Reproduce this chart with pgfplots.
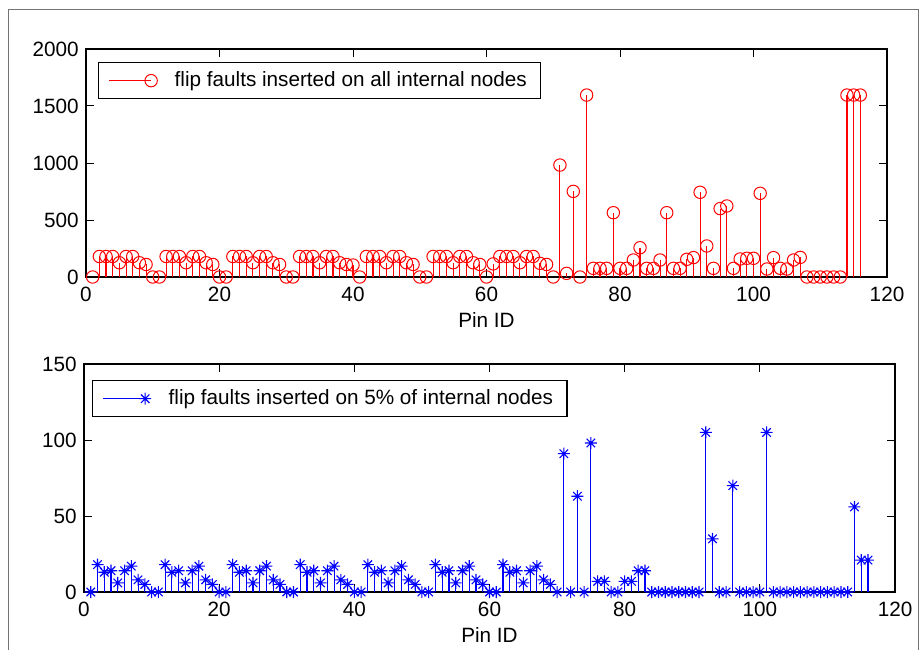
\documentclass[border=0pt]{standalone}
\usepackage{pgfplots}
\pgfplotsset{compat=1.18}
\usepackage{fontspec}
\setmainfont{Liberation Sans}
\pgfdeclareplotmark{mstar}{%
  \pgfpathmoveto{\pgfqpoint{-\pgfplotmarksize}{0pt}}\pgfpathlineto{\pgfqpoint{\pgfplotmarksize}{0pt}}%
  \pgfpathmoveto{\pgfqpoint{0pt}{-\pgfplotmarksize}}\pgfpathlineto{\pgfqpoint{0pt}{\pgfplotmarksize}}%
  \pgfpathmoveto{\pgfqpoint{-0.7071\pgfplotmarksize}{-0.7071\pgfplotmarksize}}\pgfpathlineto{\pgfqpoint{0.7071\pgfplotmarksize}{0.7071\pgfplotmarksize}}%
  \pgfpathmoveto{\pgfqpoint{-0.7071\pgfplotmarksize}{0.7071\pgfplotmarksize}}\pgfpathlineto{\pgfqpoint{0.7071\pgfplotmarksize}{-0.7071\pgfplotmarksize}}%
  \pgfusepathqstroke}
\newcommand{\ff}{\fontsize{10.35}{12}\selectfont}
\pgfplotsset{
  mstyle/.style={
    scale only axis, height=114pt,
    xmin=0, xmax=120, ymin=0,
    xtick={0,20,...,120},
    tick align=inside,
    major tick length=4pt,
    axis line style={line width=0.6pt},
    every tick/.style={black, line width=0.5pt},
    /pgf/number format/assume math mode=true,
    /pgf/number format/1000 sep={},
    ticklabel style={font=\ff},
    xticklabel style={yshift=-1.5pt},
    label style={font=\ff},
    xlabel={Pin ID},
    xlabel style={at={(axis description cs:0.5,0)}, anchor=base, yshift=-25pt, inner sep=0pt},
    legend cell align=left,
    legend style={at={(axis description cs:0,1)}, anchor=north west,
      draw=black, line width=0.6pt, font=\ff,
      inner xsep=5pt, inner ysep=2.5pt},
    legend image code/.code={%
      \draw[#1, sharp plot, mark=none] (0pt,0pt) -- (21pt,0pt);
      \draw[#1, only marks] plot coordinates {(21pt,0pt)};
      \path (30.5pt,0pt);
    },
  }
}
\begin{document}
\ff
\begin{tikzpicture}
\path[use as bounding box] (0pt,0pt) rectangle (462pt,324.5pt);
\draw[black!55, line width=0.5pt] (4pt,-2pt) -- (4pt,319.5pt) -- (459pt,319.5pt) -- (459pt,-2pt);
\begin{axis}[mstyle, at={(43pt,186pt)}, anchor=south west, width=400.5pt,
  ymax=2000, ytick={0,500,...,2000},
  legend style={xshift=6pt, yshift=-6.5pt}]
\addplot[red, line width=0.55pt, ycomb, mark=o, mark size=3.1pt, mark options={line width=0.5pt}] coordinates {
(1,0)(2,180)(3,180)(4,180)(5,125)(6,180)(7,180)(8,125)(9,110)(10,0)(11,0)
(12,180)(13,180)(14,180)(15,125)(16,180)(17,180)(18,125)(19,110)(20,0)(21,0)
(22,180)(23,180)(24,180)(25,125)(26,180)(27,180)(28,125)(29,110)(30,0)(31,0)
(32,180)(33,180)(34,180)(35,125)(36,180)(37,180)(38,125)(39,110)(40,105)(41,0)
(42,180)(43,180)(44,180)(45,125)(46,180)(47,180)(48,125)(49,110)(50,0)(51,0)
(52,180)(53,180)(54,180)(55,125)(56,180)(57,180)(58,125)(59,110)(60,0)(61,115)
(62,180)(63,180)(64,180)(65,125)(66,180)(67,180)(68,120)(69,110)(70,0)(71,982)
(72,32)(73,751)(74,0)(75,1596)(76,76)(77,76)(78,76)(79,564)(80,76)(81,76)
(82,149)(83,257)(84,76)(85,76)(86,149)(87,564)(88,76)(89,76)(90,155)(91,170)
(92,743)(93,272)(94,76)(95,600)(96,623)(97,76)(98,158)(99,164)(100,164)(101,734)
(102,70)(103,170)(104,76)(105,70)(106,149)(107,172)(108,0)(109,0)(110,0)(111,0)
(112,0)(113,0)(114,1596)(115,1596)(116,1596)
};
\addlegendentry{flip faults inserted on all internal nodes}
\node[anchor=base west, inner sep=0pt, font=\ff] at (axis description cs:0,1) [xshift=7.5pt, yshift=4.5pt] {\# Defects observed};
\end{axis}
\begin{axis}[mstyle, at={(42pt,28.5pt)}, anchor=south west, width=405.5pt,
  ymax=150, ytick={0,50,100,150},
  legend style={xshift=4pt, yshift=-8pt}]
\addplot[blue, line width=0.55pt, ycomb, mark=mstar, mark size=3pt, mark options={line width=0.55pt}] coordinates {
(1,0)(2,18)(3,13)(4,14)(5,6)(6,14)(7,17)(8,8)(9,5)(10,0)(11,0)
(12,18)(13,13)(14,14)(15,6)(16,14)(17,17)(18,8)(19,5)(20,0)(21,0)
(22,18)(23,13)(24,14)(25,6)(26,14)(27,17)(28,8)(29,5)(30,0)(31,0)
(32,18)(33,13)(34,14)(35,6)(36,14)(37,17)(38,8)(39,5)(40,0)(41,0)
(42,18)(43,13)(44,14)(45,6)(46,14)(47,17)(48,8)(49,5)(50,0)(51,0)
(52,18)(53,13)(54,14)(55,6)(56,14)(57,17)(58,8)(59,5)(60,0)(61,0)
(62,18)(63,13)(64,14)(65,6)(66,14)(67,17)(68,8)(69,5)(70,0)(71,91)
(72,0)(73,63)(74,0)(75,98)(76,7)(77,7)(78,0)(79,0)(80,7)(81,7)
(82,14)(83,14)(84,0)(85,0)(86,0)(87,0)(88,0)(89,0)(90,0)(91,0)
(92,105)(93,35)(94,0)(95,0)(96,70)(97,0)(98,0)(99,0)(100,0)(101,105)
(102,0)(103,0)(104,0)(105,0)(106,0)(107,0)(108,0)(109,0)(110,0)(111,0)
(112,0)(113,0)(114,56)(115,21)(116,21)
};
\addlegendentry{flip faults inserted on 5\% of internal nodes}
\node[anchor=base west, inner sep=0pt, font=\ff] at (axis description cs:0,1) [xshift=5pt, yshift=3.6pt] {\# Defects observed};
\end{axis}
\end{tikzpicture}
\end{document}
